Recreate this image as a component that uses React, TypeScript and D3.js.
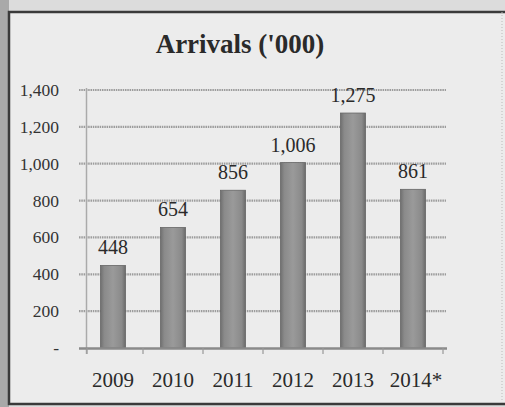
import React from "react";
import * as d3 from "d3";

const years = ["2009", "2010", "2011", "2012", "2013", "2014*"];
const arrivals = [448, 654, 856, 1006, 1275, 861];
const yTicks = [0, 200, 400, 600, 800, 1000, 1200, 1400];
const title = "Arrivals ('000)";

const W = 505;
const H = 407;
const FONT = "'Liberation Serif', 'DejaVu Serif', serif";

export default function App() {
  const x = d3.scaleBand<string>().domain(years).range([83, 443]).paddingInner(0.583).paddingOuter(0.2915);
  const y = d3.scaleLinear().domain([0, 1400]).range([348, 90]);
  const fmt = d3.format(",");
  const bw = x.bandwidth();

  return (
    <div style={{ position: "fixed", left: 0, top: 0 }}>
      <svg width={W} height={H} style={{ display: "block" }}>
        <defs>
          <linearGradient id="barg" x1="0" x2="1" y1="0" y2="0">
            <stop offset="0" stopColor="#6f6f6f" />
            <stop offset="0.15" stopColor="#8a8a8a" />
            <stop offset="0.5" stopColor="#9a9a9a" />
            <stop offset="0.85" stopColor="#8a8a8a" />
            <stop offset="1" stopColor="#6a6a6a" />
          </linearGradient>
        </defs>
        <rect x={0} y={0} width={W} height={H} fill="#dcdcdc" />
        <rect x={0} y={0} width={9} height={H} fill="#a9a9a9" />
        <rect x={9} y={12} width={W - 6} height={392} fill="#ececec" stroke="#3a3a3a" strokeWidth={2.5} />
        <line x1={502} x2={502} y1={12} y2={404} stroke="#bbb" strokeWidth={1} strokeDasharray="1,2" />

        <text x={240} y={53} textAnchor="middle" fontFamily={FONT} fontWeight="bold" fontSize={27} fill="#2a2a2a">
          {title}
        </text>

        {yTicks.map((t) => (
          <g key={t}>
            {t > 0 && (
              <line x1={79} x2={446} y1={y(t)} y2={y(t)} stroke="#9c9c9c" strokeWidth={2.2} strokeDasharray="1.5,0.8" />
            )}
            <text x={59} y={y(t) + 6} textAnchor="end" fontFamily={FONT} fontSize={17.5} fill="#333">
              {t === 0 ? "-" : fmt(t)}
            </text>
          </g>
        ))}
        <line x1={86.5} x2={86.5} y1={88} y2={354} stroke="#aaa" strokeWidth={1.5} />

        {arrivals.map((v, i) => (
          <g key={years[i]}>
            <rect x={x(years[i])!} y={y(v)} width={bw} height={y(0) - y(v)} fill="url(#barg)" stroke="#666" strokeWidth={0.8} />
            <text x={x(years[i])! + bw / 2} y={y(v) - 11} textAnchor="middle" fontFamily={FONT} fontSize={20} fill="#2a2a2a">
              {fmt(v)}
            </text>
          </g>
        ))}

        <line x1={79} x2={447} y1={348.5} y2={348.5} stroke="#8a8a8a" strokeWidth={2.5} />
        {[...years.map((d) => x(d)! - (x.step() * x.paddingInner()) / 2), x.range()[1]].map((px, i) => (
          <line key={i} x1={px + (i === 0 ? 4 : 0)} x2={px + (i === 0 ? 4 : 0)} y1={348} y2={354} stroke="#999" strokeWidth={1.2} />
        ))}
        {years.map((d) => (
          <text key={d} x={x(d)! + bw / 2 + (d === "2014*" ? 3 : 0)} y={387} textAnchor="middle" fontFamily={FONT} fontSize={21} fill="#2a2a2a">
            {d}
          </text>
        ))}
      </svg>
    </div>
  );
}
